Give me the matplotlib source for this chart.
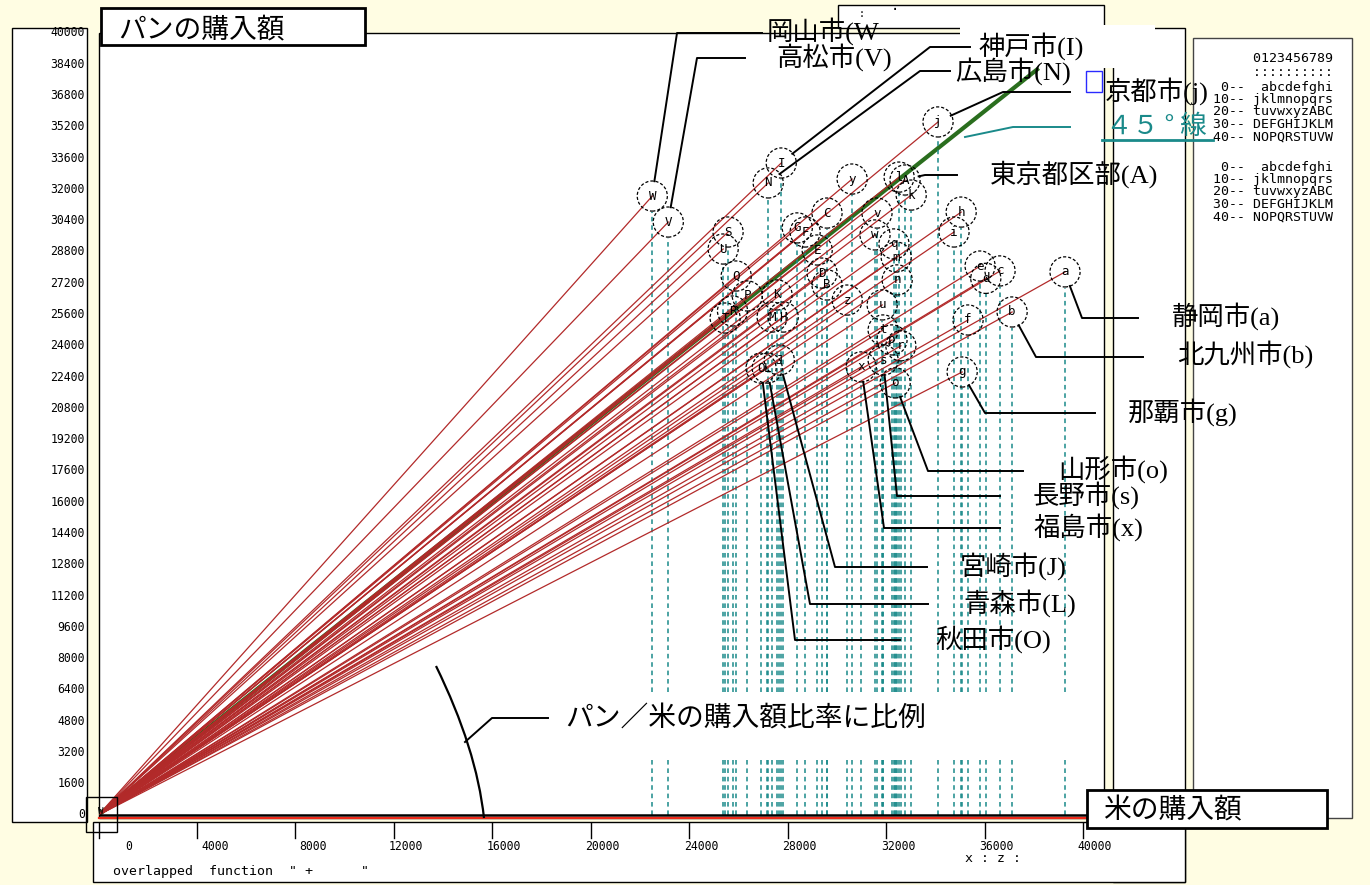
import matplotlib
matplotlib.use('Agg')
import matplotlib.pyplot as plt
import matplotlib.transforms as mtransforms
from matplotlib.patches import Rectangle, PathPatch
from matplotlib.path import Path
import numpy as np

# ---------------- data ----------------
letters = list('abcdefghijklmnopqrstuvwxyzABCDEFGHIJKLMNOPQRSTUVW')
rice = [39270, 37120, 36630, 36050, 35820, 35330, 35090, 35050, 34760, 34110,
        33020, 32530, 32410, 32450, 32370, 32240, 32320, 32600, 31880, 31880,
        31840, 31630, 31550, 30990, 30620, 30420,
        32770, 29600, 29600, 29400, 29200, 28710, 28390, 27820, 27740, 27660,
        27570, 27170, 27370, 27210, 26920, 26360, 25910, 25760, 25580, 25460,
        25380, 23150, 22500]
bread = [27780, 25730, 27830, 27450, 28080, 25320, 22660, 30840, 29820, 35450,
         31710, 32630, 28540, 27370, 22100, 24300, 29210, 24000, 23270, 24810,
         26090, 30790, 29670, 22920, 32530, 26340,
         32480, 27110, 30790, 27720, 28900, 29820, 30030, 25470, 33350, 23270,
         26600, 22860, 25470, 32330, 22860, 26550, 27570, 25780, 29820, 25420,
         28950, 30330, 31660]
line45_end = 38200
x_ticks = list(range(0, 40001, 4000))
y_ticks = list(range(0, 40001, 1600))

city_letters = ['W', 'V', 'I', 'N', 'j', 'A', 'a', 'b', 'g', 'o', 's', 'x', 'J', 'L', 'O']
city_names = ['岡山市(W', '高松市(V)', '神戸市(I)', '広島市(N)', '京都市(j)', '東京都区部(A)',
              '静岡市(a)', '北九州市(b)', '那覇市(g)', '山形市(o)', '長野市(s)', '福島市(x)',
              '宮崎市(J)', '青森市(L)', '秋田市(O)']

title_y = 'パンの購入額'
title_x = '米の購入額'
note_ratio = 'パン／米の購入額比率に比例'
note_45 = '４５ ° 線'

# ---------------- layout (pixels) ----------------
W, H = 1370, 885
CREAM = '#fffde3'
RED = '#b22a2a'
TEAL = '#1a8a8a'
GREEN = '#2a6e1e'
CJK = ['Noto Sans CJK JP', 'DejaVu Sans']
SERIF_CJK = ['Liberation Serif', 'Noto Sans CJK JP']
MONO = 'DejaVu Sans Mono'

fig = plt.figure(figsize=(W / 100, H / 100), dpi=100)
fig.patch.set_facecolor(CREAM)

def pixel_axes(z):
    a = fig.add_axes([0, 0, 1, 1], zorder=z)
    a.set_xlim(0, W)
    a.set_ylim(H, 0)
    a.axis('off')
    a.patch.set_alpha(0)
    return a

bg = pixel_axes(0)
x0px, x1px, y0px, y1px = 98.5, 1083.0, 815.0, 33.0
ax = fig.add_axes([x0px / W, 1 - y0px / H, (x1px - x0px) / W, (y0px - y1px) / H], zorder=1)
ax.set_xlim(0, 40000)
ax.set_ylim(0, 40000)
ax.axis('off')
fg = pixel_axes(2)

def rect(a, x, y, w, h, fc='white', ec='black', lw=1.0, z=1, fill=True):
    a.add_patch(Rectangle((x, y), w, h, facecolor=fc if fill else 'none',
                          edgecolor=ec, linewidth=lw, zorder=z, fill=fill))

# background panels
rect(bg, 12, 28, 75, 794)                 # y-label panel
rect(bg, 99, 33, 1005, 785)               # main panel
rect(bg, 838, 5, 266, 23)                 # top box
rect(bg, 1113, 28, 72, 854)               # middle panel
rect(bg, 93, 822, 1092, 60)               # x-axis box
rect(bg, 1193, 38, 159, 780, ec='#444444')  # code table panel
rect(bg, 960, 25, 195, 43, ec='none', z=2)  # white cover
bg.text(862, 14, ':', fontsize=7, family=MONO, ha='center', va='center', zorder=3)
bg.text(895, 10, '·', fontsize=10, family=MONO, ha='center', va='center', zorder=3)

# ---------------- data layer ----------------
ax.plot([0, line45_end], [0, line45_end], color=GREEN, lw=3.0, zorder=1,
        solid_capstyle='butt')
for xv, yv in zip(rice, bread):
    ax.plot([0, xv], [0, yv], color=RED, lw=0.9, zorder=2)
rice_a = np.array(rice)
bread_a = np.array(bread)
ax.vlines(rice_a, 6290, bread_a - 800, colors=TEAL, lw=1.1,
          linestyles=(0, (3, 2.5)), zorder=1.5)
ax.vlines(rice_a, 0, 2970, colors=TEAL, lw=1.1,
          linestyles=(0, (3, 2.5)), zorder=1.5)
ax.scatter(rice, bread, s=470, facecolors='none', edgecolors='black',
           linewidths=0.9, linestyle=(0, (2.5, 1.6)), zorder=4, clip_on=False)
for lt, xv, yv in zip(letters, rice, bread):
    ax.text(xv, yv, lt, fontsize=9, family=MONO, ha='center', va='center',
            zorder=5, clip_on=False)
ax.hlines(0, 0, 40200, colors='black', lw=1.8, zorder=3, clip_on=False)

# ---------------- foreground ----------------
bx = mtransforms.blended_transform_factory(ax.transData, fg.transData)  # x data, y px
by = mtransforms.blended_transform_factory(fg.transData, ax.transData)  # x px, y data

fg.plot([0, 40200], [817.5, 817.5], transform=bx, color='#ee2a1a', lw=1.6, zorder=3)

for v in y_ticks:
    fg.text(85, v, str(v), transform=by, fontsize=8.3, family=MONO, ha='right',
            va='center', zorder=4)
for v in x_ticks:
    fg.plot([v, v], [823, 838], transform=bx, color='black', lw=1.0, zorder=4)
    off = 30 if v == 0 else (18 if v < 10000 else 12)
    fg.annotate(str(v), xy=(v, 846), xycoords=bx, xytext=(off, 0),
                textcoords='offset pixels', fontsize=8.3, family=MONO,
                ha='center', va='center', zorder=4)

fg.text(113, 871, 'overlapped  function  " +      "', fontsize=9.5, family=MONO,
        ha='left', va='center', zorder=4)
fg.text(965, 858, 'x : z :', fontsize=9.5, family=MONO, ha='left', va='center', zorder=4)

# small box at origin
rect(fg, 86, 797, 31, 35, fill=False, z=4)
fg.text(101, 812, 'W', fontsize=6.5, family=MONO, ha='center', va='center', zorder=4)

# title boxes
rect(fg, 101, 8, 264, 37, lw=2.0, z=5)
fg.text(118, 29, title_y, fontsize=20, family=CJK, ha='left', va='center', zorder=6)
rect(fg, 1087, 790, 240, 38, lw=2.0, z=5)
fg.text(1103, 810, title_x, fontsize=20, family=CJK, ha='left', va='center', zorder=6)

# city leaders: elbow and end (px), text position (px)
elbows = [(677, 33), (697, 58), (930, 47), (920, 71), (1003, 92), (925, 175),
          (1082, 318), (1036, 357), (985, 413), (928, 471), (897, 496), (884, 528),
          (835, 567), (810, 604), (795, 640)]
ends = [(762, 33), (745, 58), (970, 47), (950, 71), (1070, 92), (957, 175),
        (1138, 318), (1143, 357), (1095, 413), (1023, 471), (1000, 496), (1000, 528),
        (927, 567), (928, 604), (900, 640)]
text_pos = [(767, 31), (776, 57), (978, 46), (955, 71), (1105, 91), (990, 174),
            (1172, 316), (1177, 354), (1128, 412), (1058, 469), (1033, 495), (1033, 527),
            (960, 566), (963, 603), (935, 639)]

to_px = ax.transData + fg.transData.inverted()
for lt, name, el, en, tp in zip(city_letters, city_names, elbows, ends, text_pos):
    i = letters.index(lt)
    cx, cy = to_px.transform((rice[i], bread[i]))
    d = np.array(el) - np.array([cx, cy])
    d = d / np.hypot(*d)
    sx, sy = cx + 14 * d[0], cy + 15 * d[1]
    fg.plot([sx, el[0], en[0]], [sy, el[1], en[1]], color='black', lw=1.4, zorder=5)
    fg.text(tp[0], tp[1], name, fontsize=19, family=SERIF_CJK, ha='left',
            va='center', zorder=6)

# 45 degree label
fg.plot([965, 1013, 1070], [137, 127, 127], color=TEAL, lw=1.4, zorder=5)
fg.text(1106, 126, note_45, fontsize=19, family=CJK, color=TEAL, ha='left',
        va='center', zorder=6)
fg.plot([1102, 1213], [140, 140], color=TEAL, lw=2.0, zorder=6)
rect(fg, 1086, 71, 16, 21, fill=False, ec='#2a2aff', lw=1.0, z=6)

# ratio note with arc
arc = Path([(436, 666), (476.5, 748.5), (484, 818)], [Path.MOVETO, Path.CURVE3, Path.CURVE3])
fg.add_patch(PathPatch(arc, facecolor='none', edgecolor='black', lw=1.6, zorder=5))
fg.plot([465, 492, 548], [742, 718, 718], color='black', lw=1.4, zorder=5)
fg.text(565, 718, note_ratio, fontsize=20, family=CJK, ha='left', va='center', zorder=6)

# code table
chars = [' '] + letters
ty = [87, 100, 112, 125, 137]
fg.text(1213, 59, '     0123456789', fontsize=9.5, family=MONO, ha='left', va='center', zorder=4)
fg.text(1213, 72, '     ::::::::::', fontsize=9.5, family=MONO, ha='left', va='center', zorder=4)
for k in range(5):
    row = ''.join(chars[10 * k:10 * k + 10])
    line = f'{10 * k:>2}-- ' + row
    fg.text(1213, ty[k], line, fontsize=9.5, family=MONO, ha='left', va='center', zorder=4)
    fg.text(1213, ty[k] + 80, line, fontsize=9.5, family=MONO, ha='left', va='center', zorder=4)

for a in (bg, fg):
    a.set_xlim(0, W)
    a.set_ylim(H, 0)
ax.set_xlim(0, 40000)
ax.set_ylim(0, 40000)

fig.savefig('out.png', dpi=100, facecolor=CREAM)
